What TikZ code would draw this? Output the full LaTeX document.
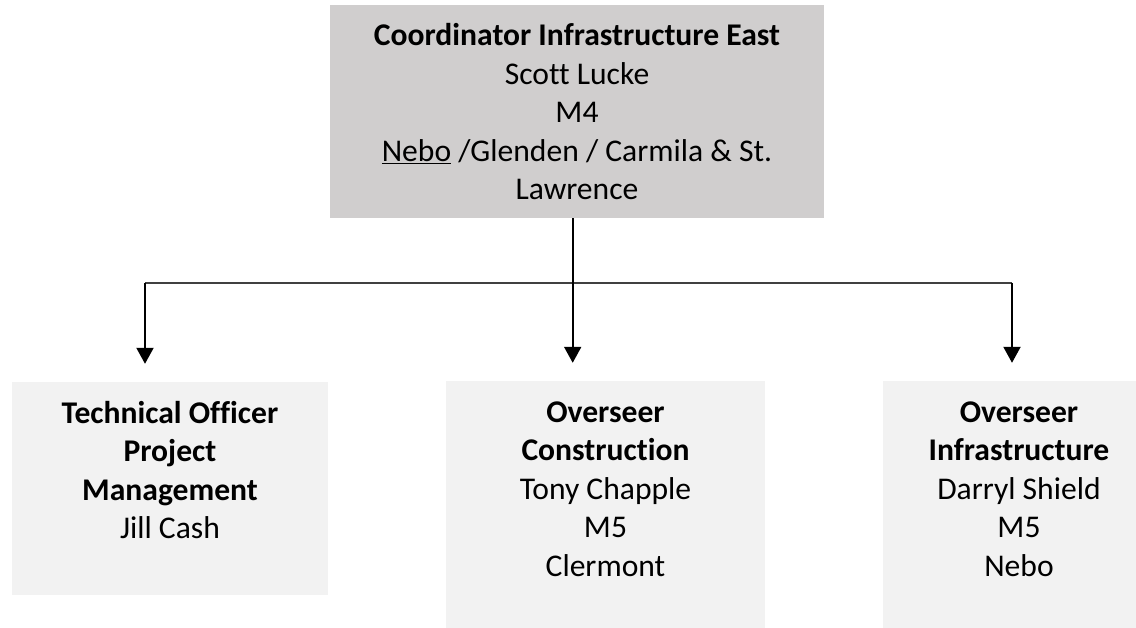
\documentclass[tikz,border=0pt]{standalone}
\usepackage{fontspec}
\setmainfont{Carlito}[Ligatures=NoCommon]
\usetikzlibrary{arrows.meta}
\definecolor{headgray}{HTML}{D0CECE}
\definecolor{staffgray}{HTML}{F2F2F2}
\definecolor{linkgray}{HTML}{404040}
% box text: width, height, lines (top aligned)
\newcommand{\orgtext}[3]{\parbox[c][#2][t]{#1}{\centering\rule{0pt}{41pt}#3}}
\tikzset{
  headbox/.style={fill=headgray, inner sep=0pt},
  staffbox/.style={fill=staffgray, inner sep=0pt},
  arr/.style={->, line width=2pt, shorten >=18pt},
}
\begin{document}
\begin{tikzpicture}[x=1pt, y=-1pt, >={Triangle[width=17pt,length=16pt]}, font=\fontsize{31.6}{38.5}\selectfont]
\useasboundingbox (0,0) rectangle (1136,628);
\node[headbox] (coord) at (577,111.5) {\orgtext{494pt}{213pt}{\textbf{Coordinator Infrastructure East}\\ Scott Lucke\\ M4\\ \underline{Nebo} /Glenden / Carmila \& St.\\ Lawrence}};
\node[staffbox] (tech) at (170,488.5) {\orgtext{316pt}{213pt}{\textbf{Technical Officer}\\ \textbf{Project}\\ \textbf{Management}\\ Jill Cash}};
\node[staffbox] (build) at (605.5,510.5) {\orgtext{319pt}{259pt}{\textbf{Overseer}\\ \textbf{Construction}\\ Tony Chapple\\ M5\\ Clermont}};
\node[staffbox] (infra) at (1019,510.5) {\orgtext{272pt}{259pt}{\textbf{Overseer}\\ \textbf{Infrastructure}\\ Darryl Shield\\ M5\\ Nebo}};
\coordinate (split) at (572.7,283);
\coordinate (leftend) at (145,283);
\coordinate (rightend) at (1012,283);
\draw[linkgray, line width=1.3pt] (leftend) -- (rightend);
\draw[line width=2pt] (coord.south -| split) -- (split);
\draw[arr] (leftend) -- (leftend |- tech.north);
\draw[arr] (split) -- (split |- build.north);
\draw[arr] (rightend) -- (rightend |- infra.north);
\end{tikzpicture}
\end{document}
